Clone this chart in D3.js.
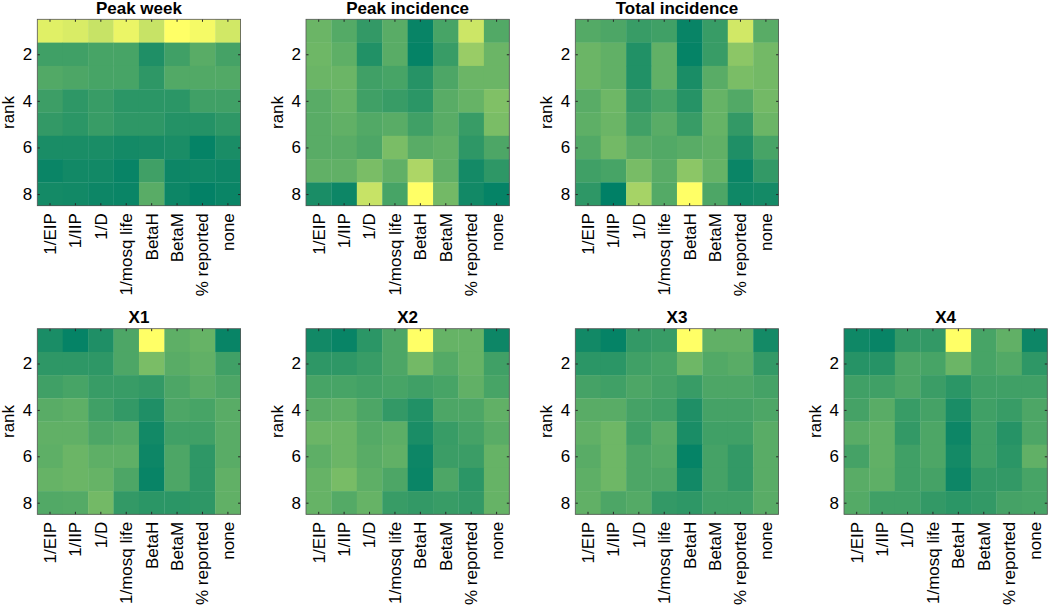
<!DOCTYPE html>
<html>
<head>
<meta charset="utf-8">
<script src="https://cdn.jsdelivr.net/npm/d3@7"></script>
<style>
  html, body { margin: 0; padding: 0; background: #ffffff; }
  svg { display: block; font-family: "Liberation Sans", Arial, Helvetica, sans-serif; }
</style>
</head>
<body>
<svg id="chart" width="1050" height="605"></svg>
<script>
// ---------- data ----------
const params = ["1/EIP", "1/IIP", "1/D", "1/mosq life", "BetaH", "BetaM", "% reported", "none"];
const ranks = [1, 2, 3, 4, 5, 6, 7, 8];
const rankTicks = [2, 4, 6, 8];
const titles = ["Peak week", "Peak incidence", "Total incidence", "X1", "X2", "X3", "X4"];

// values (normalised, rows = rank 1..8, columns = params)
const peakWeek = [
  [0.88, 0.85, 0.78, 0.92, 0.78, 1.00, 0.96, 0.82],
  [0.25, 0.25, 0.28, 0.28, 0.12, 0.25, 0.35, 0.27],
  [0.32, 0.30, 0.28, 0.28, 0.18, 0.32, 0.32, 0.32],
  [0.24, 0.18, 0.22, 0.17, 0.17, 0.17, 0.25, 0.25],
  [0.20, 0.17, 0.22, 0.18, 0.18, 0.14, 0.14, 0.18],
  [0.10, 0.10, 0.10, 0.08, 0.09, 0.10, 0.02, 0.10],
  [0.04, 0.07, 0.07, 0.03, 0.25, 0.05, 0.06, 0.05],
  [0.08, 0.07, 0.05, 0.04, 0.35, 0.05, 0.01, 0.04]
];
const peakIncidence = [
  [0.42, 0.33, 0.20, 0.35, 0.03, 0.28, 0.80, 0.32],
  [0.43, 0.37, 0.13, 0.35, 0.02, 0.22, 0.60, 0.42],
  [0.42, 0.42, 0.25, 0.28, 0.15, 0.30, 0.42, 0.42],
  [0.35, 0.40, 0.25, 0.22, 0.17, 0.35, 0.40, 0.50],
  [0.35, 0.38, 0.32, 0.35, 0.25, 0.35, 0.22, 0.48],
  [0.35, 0.35, 0.30, 0.48, 0.35, 0.38, 0.18, 0.30],
  [0.38, 0.38, 0.48, 0.38, 0.68, 0.38, 0.08, 0.18],
  [0.10, 0.05, 0.78, 0.28, 1.00, 0.45, 0.07, 0.02]
];
const totalIncidence = [
  [0.33, 0.30, 0.22, 0.25, 0.03, 0.22, 0.82, 0.35],
  [0.42, 0.38, 0.13, 0.38, 0.02, 0.22, 0.55, 0.45],
  [0.42, 0.38, 0.13, 0.38, 0.10, 0.35, 0.48, 0.45],
  [0.35, 0.43, 0.20, 0.28, 0.15, 0.40, 0.32, 0.45],
  [0.37, 0.42, 0.25, 0.35, 0.22, 0.40, 0.20, 0.42],
  [0.32, 0.45, 0.35, 0.32, 0.35, 0.38, 0.12, 0.28],
  [0.25, 0.28, 0.47, 0.35, 0.55, 0.40, 0.04, 0.20],
  [0.18, 0.00, 0.65, 0.33, 1.00, 0.30, 0.06, 0.08]
];
const x1 = [
  [0.10, 0.02, 0.12, 0.30, 1.00, 0.37, 0.40, 0.03],
  [0.18, 0.18, 0.18, 0.30, 0.48, 0.35, 0.38, 0.25],
  [0.25, 0.28, 0.22, 0.22, 0.20, 0.30, 0.35, 0.30],
  [0.35, 0.37, 0.25, 0.20, 0.12, 0.30, 0.28, 0.35],
  [0.38, 0.38, 0.30, 0.33, 0.07, 0.25, 0.25, 0.35],
  [0.37, 0.42, 0.37, 0.37, 0.05, 0.30, 0.18, 0.35],
  [0.40, 0.42, 0.40, 0.30, 0.03, 0.30, 0.18, 0.38],
  [0.32, 0.33, 0.45, 0.20, 0.17, 0.17, 0.18, 0.38]
];
const x2 = [
  [0.07, 0.03, 0.17, 0.30, 1.00, 0.40, 0.40, 0.05],
  [0.18, 0.18, 0.22, 0.30, 0.45, 0.33, 0.40, 0.25],
  [0.28, 0.28, 0.26, 0.28, 0.25, 0.28, 0.38, 0.28],
  [0.35, 0.37, 0.30, 0.20, 0.13, 0.30, 0.30, 0.38],
  [0.42, 0.42, 0.33, 0.36, 0.10, 0.22, 0.27, 0.35],
  [0.37, 0.42, 0.35, 0.38, 0.05, 0.23, 0.23, 0.40],
  [0.40, 0.47, 0.37, 0.30, 0.04, 0.30, 0.17, 0.40],
  [0.40, 0.33, 0.40, 0.22, 0.20, 0.22, 0.20, 0.40]
];
const x3 = [
  [0.07, 0.02, 0.20, 0.22, 1.00, 0.38, 0.38, 0.08],
  [0.17, 0.17, 0.25, 0.28, 0.43, 0.32, 0.35, 0.20],
  [0.27, 0.25, 0.30, 0.27, 0.22, 0.30, 0.30, 0.27],
  [0.35, 0.35, 0.27, 0.25, 0.12, 0.27, 0.27, 0.30],
  [0.38, 0.43, 0.25, 0.35, 0.10, 0.25, 0.25, 0.35],
  [0.35, 0.43, 0.30, 0.33, 0.02, 0.27, 0.20, 0.35],
  [0.37, 0.43, 0.30, 0.30, 0.07, 0.27, 0.20, 0.35],
  [0.38, 0.30, 0.33, 0.20, 0.18, 0.25, 0.25, 0.35]
];
const x4 = [
  [0.06, 0.03, 0.20, 0.20, 1.00, 0.28, 0.38, 0.05],
  [0.15, 0.15, 0.30, 0.28, 0.42, 0.28, 0.32, 0.18],
  [0.25, 0.25, 0.30, 0.23, 0.17, 0.25, 0.25, 0.25],
  [0.27, 0.35, 0.22, 0.27, 0.10, 0.25, 0.22, 0.30],
  [0.35, 0.38, 0.20, 0.30, 0.05, 0.25, 0.15, 0.30],
  [0.27, 0.38, 0.25, 0.30, 0.08, 0.25, 0.17, 0.38],
  [0.35, 0.37, 0.25, 0.27, 0.05, 0.20, 0.20, 0.28],
  [0.33, 0.25, 0.25, 0.20, 0.17, 0.20, 0.27, 0.28]
];
const panelData = [peakWeek, peakIncidence, totalIncidence, x1, x2, x3, x4];

// ---------- layout ----------
const svg = d3.select("#chart");
const colLeft = [37.3, 306, 575.3, 844];
const plotW = 203.3;
const rowTop = [19.3, 328.7];
const plotH = [186.4, 185.6];
const panelPos = [[0,0],[1,0],[2,0],[0,1],[1,1],[2,1],[3,1]];

// MATLAB "summer"-like colormap
const color = d3.scaleSequential(t => d3.rgb(255 * t, 128 + 127 * t, 102).toString()).domain([0, 1]);
const axisColor = "#262626";

panelData.forEach((data, i) => {
  const [c, r] = panelPos[i];
  const h = plotH[r];
  const g = svg.append("g").attr("transform", `translate(${colLeft[c]},${rowTop[r]})`);

  const x = d3.scaleBand().domain(params).range([0, plotW]).paddingInner(0).paddingOuter(0);
  const y = d3.scaleLinear().domain([0.5, 8.5]).range([0, h]);
  const cellH = y(1.5) - y(0.5);

  // cells
  const cells = [];
  data.forEach((row, ri) => row.forEach((v, ci) => cells.push({ rank: ranks[ri], param: params[ci], v: v })));
  g.selectAll("rect.cell").data(cells).join("rect")
    .attr("class", "cell")
    .attr("x", d => x(d.param))
    .attr("y", d => y(d.rank - 0.5))
    .attr("width", x.bandwidth() + 0.3)
    .attr("height", cellH + 0.3)
    .attr("fill", d => color(d.v));

  // bottom axis
  const xAxis = d3.axisBottom(x).tickSizeInner(-2.5).tickSizeOuter(0).tickPadding(7);
  const gx = g.append("g").attr("transform", `translate(0,${h})`).call(xAxis);
  gx.select(".domain").remove();
  gx.selectAll(".tick line").attr("stroke", axisColor);
  gx.selectAll(".tick text")
    .attr("transform", "rotate(-90)")
    .attr("text-anchor", "end")
    .attr("x", -7.5)
    .attr("y", 0)
    .attr("dy", "0.35em")
    .attr("fill", "#000")
    .style("font-size", "17px");

  // top axis ticks (mirror)
  const gxt = g.append("g").call(d3.axisTop(x).tickSizeInner(-2.5).tickSizeOuter(0).tickFormat(""));
  gxt.select(".domain").remove();
  gxt.selectAll(".tick line").attr("stroke", axisColor);

  // left axis
  const yAxis = d3.axisLeft(y).tickValues(rankTicks).tickFormat(d3.format("d")).tickSizeInner(-2.5).tickSizeOuter(0).tickPadding(5);
  const gy = g.append("g").call(yAxis);
  gy.select(".domain").remove();
  gy.selectAll(".tick line").attr("stroke", axisColor);
  gy.selectAll(".tick text").attr("fill", "#000").style("font-size", "17px");

  // right axis ticks (mirror)
  const gyr = g.append("g").attr("transform", `translate(${plotW},0)`)
    .call(d3.axisRight(y).tickValues(rankTicks).tickSizeInner(-2.5).tickSizeOuter(0).tickFormat(""));
  gyr.select(".domain").remove();
  gyr.selectAll(".tick line").attr("stroke", axisColor);

  // box
  g.append("rect").attr("x", 0).attr("y", 0).attr("width", plotW).attr("height", h)
    .attr("fill", "none").attr("stroke", "#555").attr("stroke-width", 0.8);

  // y label
  g.append("text")
    .attr("transform", `translate(-29,${h / 2}) rotate(-90)`)
    .attr("text-anchor", "middle")
    .attr("dy", "0.35em")
    .style("font-size", "17px")
    .attr("fill", "#000")
    .text("rank");

  // title
  g.append("text")
    .attr("x", plotW / 2)
    .attr("y", -5.5)
    .attr("text-anchor", "middle")
    .style("font-size", "17px")
    .style("font-weight", "bold")
    .attr("fill", "#000")
    .text(titles[i]);
});
</script>
</body>
</html>
